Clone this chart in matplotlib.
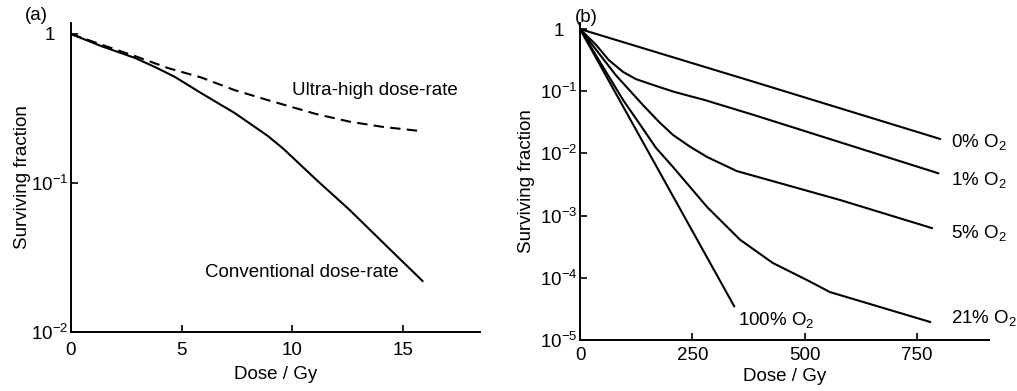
import math
import matplotlib
matplotlib.use('Agg')
import matplotlib.pyplot as plt
from matplotlib.ticker import FixedLocator, FuncFormatter, NullLocator
from matplotlib.transforms import ScaledTranslation

plt.rcParams['font.family'] = ['Liberation Sans', 'DejaVu Sans']
plt.rcParams['mathtext.fontset'] = 'custom'
plt.rcParams['mathtext.rm'] = 'Liberation Sans'
plt.rcParams['mathtext.it'] = 'Liberation Sans:italic'
plt.rcParams['mathtext.bf'] = 'Liberation Sans:bold'
plt.rcParams['font.size'] = 13.5

# ---------------- Panel (a) data ----------------
dose_conv = [0, 1.36, 2.9, 3.8, 4.7, 5.9, 7.4, 8.9, 9.6, 11.1, 12.6, 14.1, 15.9]
sf_conv = [1.0, 0.83, 0.69, 0.60, 0.515, 0.40, 0.295, 0.207, 0.17, 0.105, 0.066, 0.040, 0.022]
dose_uhdr = [0, 1.36, 2.9, 4.4, 5.9, 7.4, 8.9, 11.1, 12.6, 14.1, 15.7]
sf_uhdr = [1.0, 0.85, 0.71, 0.59, 0.51, 0.42, 0.36, 0.29, 0.258, 0.238, 0.224]
a_xticks = [0, 5, 10, 15]
a_yticks = [1, 0.1, 0.01]

# ---------------- Panel (b) data ----------------
dose_o0 = [0, 389, 801]
sf_o0 = [1.0, 0.14, 0.0171]
dose_o1 = [0, 36, 64, 96, 124, 176, 211, 278, 389, 797]
sf_o1 = [1.0, 0.553, 0.317, 0.204, 0.157, 0.117, 0.097, 0.072, 0.041, 0.0048]
dose_o5 = [0, 80, 140, 176, 207, 245, 283, 349, 579, 783]
sf_o5 = [1.0, 0.18, 0.060, 0.032, 0.0198, 0.0128, 0.00875, 0.0052, 0.00178, 0.00063]
dose_o21 = [0, 96, 131, 169, 207, 283, 356, 429, 505, 556, 779]
sf_o21 = [1.0, 0.072, 0.031, 0.0123, 0.00604, 0.00137, 0.00041, 0.000173, 9.2e-5, 5.9e-5, 1.95e-5]
dose_o100 = [0, 343]
sf_o100 = [1.0, 3.5e-5]
b_xticks = [0, 250, 500, 750]
b_yticks = [1, 1e-1, 1e-2, 1e-3, 1e-4, 1e-5]


def logfmt(v, pos):
    if abs(v - 1) < 1e-9:
        return '1'
    return r'$10^{%d}$' % round(math.log10(v))


W, H = 1017, 391
fig = plt.figure(figsize=(W / 100, H / 100), dpi=100)

def axes_px(l, t, r, b):
    return fig.add_axes([l / W, 1 - b / H, (r - l) / W, (b - t) / H])

lw = 1.5

# Panel (a)
axa = axes_px(71, 23, 480, 332)
axa.plot(dose_conv, sf_conv, color='black', lw=lw)
axa.plot(dose_uhdr, sf_uhdr, color='black', lw=lw, linestyle=(0, (5, 3)))
axa.set_yscale('log')
axa.set_xlim(0, 18.5)
axa.set_ylim(0.01, 1.185)
axa.xaxis.set_major_locator(FixedLocator(a_xticks))
axa.yaxis.set_major_locator(FixedLocator(a_yticks))
axa.yaxis.set_minor_locator(NullLocator())
axa.yaxis.set_major_formatter(FuncFormatter(logfmt))
axa.text(10.0, 0.42, 'Ultra-high dose-rate', ha='left', va='center')
axa.text(14.8, 0.0249, 'Conventional dose-rate', ha='right', va='center')
axa.set_xlabel('Dose / Gy', labelpad=5)
axa.set_ylabel('Surviving fraction', labelpad=0)

# Panel (b)
axb = axes_px(580, 23, 989, 340)
for d, s in [(dose_o0, sf_o0), (dose_o1, sf_o1), (dose_o5, sf_o5),
             (dose_o21, sf_o21), (dose_o100, sf_o100)]:
    axb.plot(d, s, color='black', lw=lw)
axb.set_yscale('log')
axb.set_xlim(0, 910)
axb.set_ylim(1e-5, 1.25)
axb.xaxis.set_major_locator(FixedLocator(b_xticks))
axb.yaxis.set_major_locator(FixedLocator(b_yticks))
axb.yaxis.set_minor_locator(NullLocator())
axb.yaxis.set_major_formatter(FuncFormatter(logfmt))
axb.text(826, 0.0152, r'0% O$_2$', ha='left', va='center')
axb.text(826, 0.0037, r'1% O$_2$', ha='left', va='center')
axb.text(826, 0.00052, r'5% O$_2$', ha='left', va='center')
axb.text(826, 2.25e-5, r'21% O$_2$', ha='left', va='center')
axb.text(352, 2.1e-5, r'100% O$_2$', ha='left', va='center')
axb.set_xlabel('Dose / Gy', labelpad=3)
axb.set_ylabel('Surviving fraction', labelpad=3)

for ax in (axa, axb):
    ax.spines['top'].set_visible(False)
    ax.spines['right'].set_visible(False)
    ax.spines['left'].set_linewidth(1.4)
    ax.spines['bottom'].set_linewidth(1.4)
    ax.tick_params(axis='both', which='major', direction='in', length=5, width=1.2)
    ax.tick_params(axis='y', pad=2)
    ax.patch.set_alpha(0)
    for sp in ax.spines.values():
        sp.set_zorder(3)
axa.tick_params(axis='x', pad=7)
axb.tick_params(axis='x', pad=5)

fig.text(25 / W, 1 - 15 / H, '(a)', ha='left', va='center')
fig.text(575 / W, 1 - 17 / H, '(b)', ha='left', va='center')

fig.canvas.draw()
for ax in (axa, axb):
    for t in ax.yaxis.get_major_ticks():
        if abs(t.get_loc() - 1) < 1e-9:
            t.label1.set_transform(t.label1.get_transform()
                                   + ScaledTranslation(-0.13, 0, fig.dpi_scale_trans))

fig.savefig('out.png', dpi=100)
